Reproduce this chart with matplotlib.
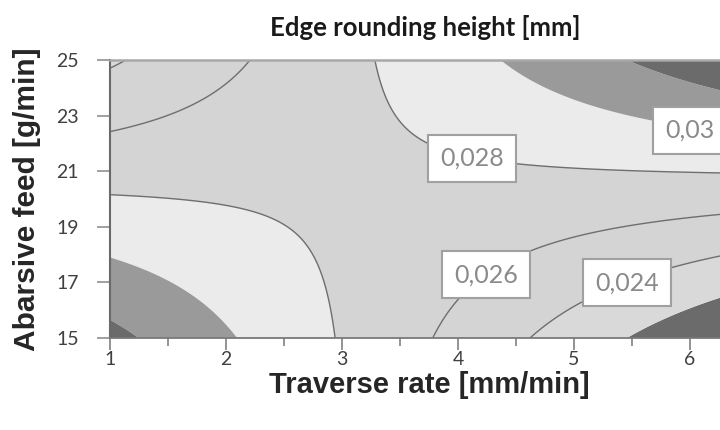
"""Contour map of edge rounding height vs traverse rate and abrasive feed."""

import matplotlib

matplotlib.use("Agg")

import matplotlib.pyplot as plt
import numpy as np

# points: traverse rate [mm/min],
# abrasive feed [g/min] and the height level [mm] the line belongs to
trace_x = [3.30, 3.50, 4.50, 6.26, 1.00, 2.35, 2.64, 2.81, 2.92,
           3.78, 3.97, 4.62, 6.26, 1.00, 1.63, 2.21,
           4.64, 5.07, 5.84, 6.26, 1.02, 1.13,
           5.48, 6.26,
           4.36, 5.68, 6.00, 1.00, 2.09,
           5.46, 6.26, 1.00, 1.23]
trace_y = [25.00, 22.85, 21.20, 20.90, 20.18, 19.35, 18.78, 17.34, 15.00,
           15.00, 16.26, 18.17, 19.50, 22.48, 23.10, 25.00,
           15.00, 16.20, 17.50, 18.00, 24.75, 25.00,
           15.00, 16.50,
           25.00, 22.84, 22.55, 17.90, 15.00,
           25.00, 23.90, 15.70, 15.00]
trace_z = [0.028, 0.028, 0.028, 0.028, 0.028, 0.028, 0.028, 0.028, 0.028,
           0.026, 0.026, 0.026, 0.026, 0.026, 0.026, 0.026,
           0.024, 0.024, 0.024, 0.024, 0.024, 0.024,
           0.022, 0.022,
           0.030, 0.030, 0.030, 0.030, 0.030,
           0.032, 0.032, 0.032, 0.032]

band_levels = [-1.0, 0.022, 0.024, 0.026, 0.028, 0.030, 0.032, 1.0]
band_colors = ["#6b6b6b", "#d9d9d9", "#d4d4d4", "#d4d4d4", "#ebebeb", "#9a9a9a", "#6b6b6b"]
line_levels = [0.024, 0.026, 0.028]

label_text = ["0,028", "0,03", "0,026", "0,024"]
x_ticks = [1, 2, 3, 4, 5, 6]
y_ticks = [15, 17, 19, 21, 23, 25]

X_LIM = (1.0, 6.26)
Y_LIM = (15.0, 25.0)
LABEL_POS = [(4.12, 21.47), (6.00, 22.48), (4.24, 17.27), (5.46, 16.98)]


def response_surface():
    # second order model fitted to the traced points
    tx = np.array(trace_x)
    ty = np.array(trace_y)
    design = np.column_stack([np.ones_like(tx), tx, ty, tx * ty, tx**2, ty**2])
    coef, *_ = np.linalg.lstsq(design, np.array(trace_z), rcond=None)
    gx, gy = np.meshgrid(np.linspace(*X_LIM, 300), np.linspace(*Y_LIM, 300))
    gz = coef[0] + coef[1] * gx + coef[2] * gy + coef[3] * gx * gy + coef[4] * gx**2 + coef[5] * gy**2
    return gx, gy, gz


def main():
    fig = plt.figure(figsize=(7.2, 4.3), dpi=100)
    ax = fig.add_axes([110 / 720, 92 / 430, 610 / 720, 278 / 430])

    gx, gy, gz = response_surface()
    ax.contourf(gx, gy, gz, levels=band_levels, colors=band_colors, antialiased=True)
    ax.contour(gx, gy, gz, levels=line_levels, colors="#6e6e6e", linewidths=1.0)

    for text, (lx, ly) in zip(label_text, LABEL_POS):
        ax.text(lx, ly, text, ha="center", va="center", fontsize=18, family="Lato",
                color="#8a8a8a", zorder=5, clip_on=False,
                bbox=dict(boxstyle="square,pad=0.48", facecolor="white",
                          edgecolor="#a0a0a0", linewidth=1.5))

    ax.set_xlim(*X_LIM)
    ax.set_ylim(*Y_LIM)
    ax.set_xticks(x_ticks)
    ax.set_xticks(np.arange(1.5, 6.3, 1.0), minor=True)
    ax.set_yticks(y_ticks)
    ax.tick_params(axis="x", which="major", length=8.5, width=1.2, color="#808080",
                   pad=1.0, labelsize=14, labelcolor="#404040")
    ax.tick_params(axis="x", which="minor", length=6, width=1.2, color="#808080")
    ax.tick_params(axis="y", length=9.5, width=1.2, color="#909090",
                   pad=13, labelsize=14, labelcolor="#404040")
    for lab in ax.get_xticklabels() + ax.get_yticklabels():
        lab.set_family("Lato")

    ax.spines["right"].set_visible(False)
    ax.spines["top"].set_color("#a8a8a8")
    ax.spines["top"].set_linewidth(1.8)
    ax.spines["left"].set_color("#6a6a6a")
    ax.spines["left"].set_linewidth(1.5)
    ax.spines["bottom"].set_color("#7a7a7a")
    ax.spines["bottom"].set_linewidth(1.3)

    narrow = ["Liberation Sans Narrow", "Liberation Sans", "DejaVu Sans"]
    fig.text(429 / 720, 1 - 385 / 430, "Traverse rate [mm/min]", ha="center", va="center",
             fontsize=21, fontweight="bold", family=narrow, color="#262626")
    fig.text(27 / 720, 1 - 199 / 430, "Abarsive feed [g/min]", ha="center", va="center",
             rotation=90, fontsize=21.5, fontweight="bold", family=narrow, color="#262626")
    fig.text(425 / 720, 1 - 27 / 430, "Edge rounding height [mm]", ha="center", va="center",
             fontsize=18.5, fontweight="bold", family="Lato", color="#1a1a1a")

    fig.savefig("out.png", dpi=100)
    plt.close(fig)


if __name__ == "__main__":
    main()
